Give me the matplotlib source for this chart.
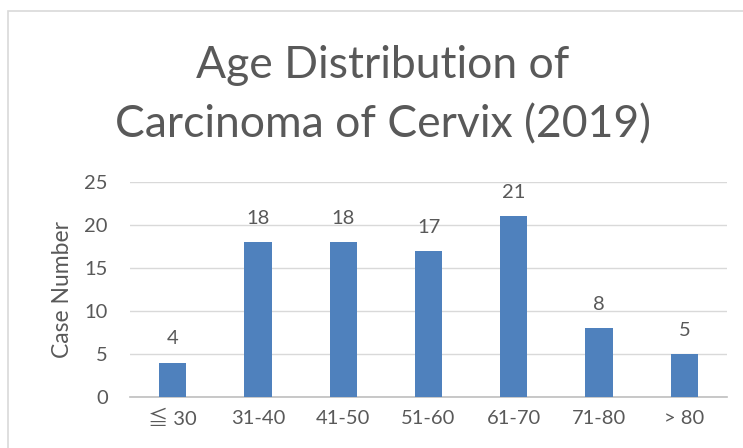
import matplotlib
matplotlib.use("Agg")
import matplotlib.pyplot as plt
from matplotlib.patches import Rectangle

categories = ["≦ 30", "31-40", "41-50", "51-60", "61-70", "71-80", "> 80"]
values = [4, 18, 18, 17, 21, 8, 5]
yticks = [0, 5, 10, 15, 20, 25]

plt.rcParams['font.family'] = ['Lato', 'Noto Sans CJK JP', 'DejaVu Sans']
txt = '#595959'

W, H = 743, 448
fig = plt.figure(figsize=(W/100, H/100), dpi=100)
fig.patch.set_facecolor('white')
fig.patches.append(Rectangle((8/W, -0.1), 1.2, 1 - 11/H + 0.1, transform=fig.transFigure,
                             fill=False, edgecolor='#D9D9D9', linewidth=1.2))

ax = fig.add_axes([130/W, 1 - 397/H, (727-130)/W, (397-182)/H])
x = list(range(len(categories)))
bars = ax.bar(x, values, width=0.32, color='#4F81BD', zorder=3)
ax.set_xlim(-0.5, len(categories) - 0.5)
ax.set_ylim(0, 25)
ax.set_yticks(yticks)
ax.set_xticks(x)
ax.set_xticklabels(categories)
ax.grid(axis='y', color='#D9D9D9', linewidth=1.0, zorder=0)
for s in ['top', 'right', 'left']:
    ax.spines[s].set_visible(False)
ax.spines['bottom'].set_color('#BFBFBF')
ax.spines['bottom'].set_linewidth(1.2)
ax.tick_params(axis='both', length=0, labelsize=14.5, colors=txt, pad=9)
ax.tick_params(axis='y', pad=16)
for xi, v in zip(x, values):
    ax.annotate(str(v), (xi, v), xytext=(0, 11), textcoords='offset points',
                ha='center', va='bottom', fontsize=14.5, color=txt)
ax.set_ylabel('Case Number', fontsize=16.5, color=txt, labelpad=8)

fig.text(383/W, 1 - 65/H, 'Age Distribution of', ha='center', va='center',
         fontsize=32, color=txt)
fig.text(383/W, 1 - 125/H, 'Carcinoma of Cervix (2019)', ha='center', va='center',
         fontsize=32, color=txt)

fig.savefig('out.png', dpi=100, facecolor='white')
